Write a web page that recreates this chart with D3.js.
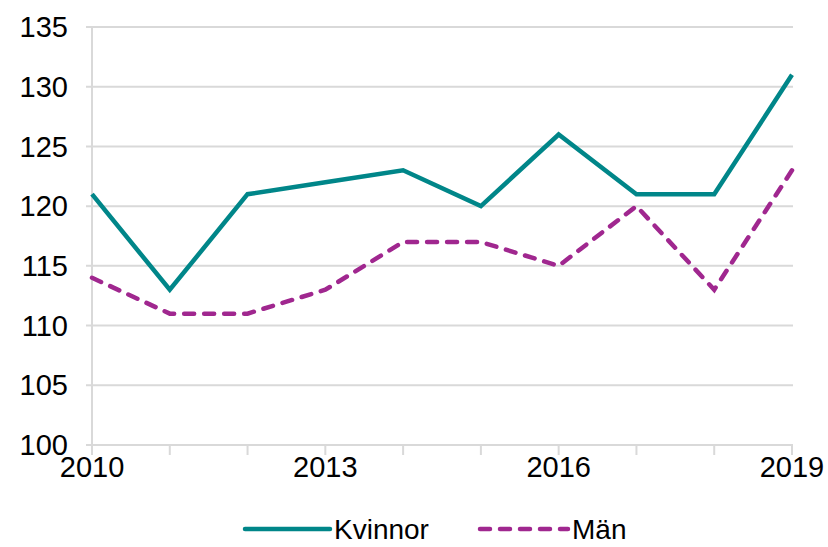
<!DOCTYPE html>
<html>
<head>
<meta charset="utf-8">
<script src="https://cdn.jsdelivr.net/npm/d3@7"></script>
<style>
  body { margin: 0; background: #fff; }
  text { font-family: "Liberation Sans", Arial, sans-serif; fill: #000; }
</style>
</head>
<body>
<script>
// data
var years = [2010, 2011, 2012, 2013, 2014, 2015, 2016, 2017, 2018, 2019];
var kvinnor = [121, 113, 121, 122, 123, 120, 126, 121, 121, 131];
var man = [114, 111, 111, 113, 117, 117, 115, 120, 113, 123];
var yTicks = [100, 105, 110, 115, 120, 125, 130, 135];
var xLabels = [2010, 2013, 2016, 2019];

var svgWidth = 828;
var svgHeight = 547;
var margin = { top: 27, right: 36, bottom: 102, left: 92 };
var width = svgWidth - margin.left - margin.right;
var height = svgHeight - margin.top - margin.bottom;

var svg = d3.select("body").append("svg")
  .attr("width", svgWidth)
  .attr("height", svgHeight);

var chart = svg.append("g")
  .attr("transform", `translate(${margin.left}, ${margin.top})`);

var x = d3.scaleLinear().domain([2010, 2019]).range([0, width]);
var y = d3.scaleLinear().domain([100, 135]).range([height, 0]);

// gridlines
chart.append("g")
  .selectAll("line")
  .data(yTicks)
  .enter().append("line")
  .attr("x1", -6).attr("x2", width + 1)
  .attr("y1", d => y(d)).attr("y2", d => y(d))
  .attr("stroke", "#d9d9d9")
  .attr("stroke-width", 2);

// y axis labels
chart.append("g")
  .selectAll("text")
  .data(yTicks)
  .enter().append("text")
  .attr("x", -24)
  .attr("y", d => y(d))
  .attr("dy", "0.35em")
  .attr("text-anchor", "end")
  .style("font-size", "29px")
  .text(d => d);

// y axis line
chart.append("line")
  .attr("x1", 0).attr("x2", 0)
  .attr("y1", 0).attr("y2", height)
  .attr("stroke", "#d9d9d9")
  .attr("stroke-width", 2);

// x ticks
chart.append("g")
  .selectAll("line")
  .data(years)
  .enter().append("line")
  .attr("x1", d => x(d)).attr("x2", d => x(d))
  .attr("y1", height).attr("y2", height + 10)
  .attr("stroke", "#d9d9d9")
  .attr("stroke-width", 2);

chart.append("g")
  .selectAll("text")
  .data(xLabels)
  .enter().append("text")
  .attr("x", d => x(d))
  .attr("y", height + 22)
  .attr("dy", "0.35em")
  .attr("text-anchor", "middle")
  .style("font-size", "29px")
  .text(d => d);

// lines
var line = d3.line()
  .x((d, i) => x(years[i]))
  .y(d => y(d));

chart.append("path")
  .datum(kvinnor)
  .attr("d", line)
  .attr("fill", "none")
  .attr("stroke", "#008689")
  .attr("stroke-width", 4.5);

chart.append("path")
  .datum(man)
  .attr("d", line)
  .attr("fill", "none")
  .attr("stroke", "#a0278f")
  .attr("stroke-width", 4.5)
  .attr("stroke-linecap", "round")
  .attr("stroke-dasharray", "10,10");

// legend
var legend = svg.append("g").attr("transform", "translate(0, 529)");
legend.append("line")
  .attr("x1", 245).attr("x2", 330)
  .attr("y1", 0).attr("y2", 0)
  .attr("stroke", "#008689")
  .attr("stroke-width", 4.5)
  .attr("stroke-linecap", "round");
legend.append("text")
  .attr("x", 334).attr("y", 0).attr("dy", "0.35em")
  .style("font-size", "28px")
  .text("Kvinnor");
legend.append("line")
  .attr("x1", 480).attr("x2", 568)
  .attr("y1", 0).attr("y2", 0)
  .attr("stroke", "#a0278f")
  .attr("stroke-width", 4.5)
  .attr("stroke-linecap", "round")
  .attr("stroke-dasharray", "10,10");
legend.append("text")
  .attr("x", 572).attr("y", 0).attr("dy", "0.35em")
  .style("font-size", "28px")
  .text("Män");
</script>
</body>
</html>
